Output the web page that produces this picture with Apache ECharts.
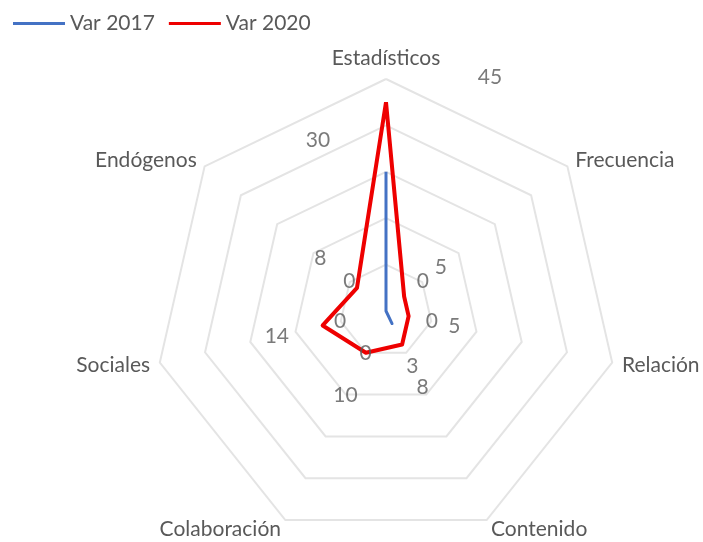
<!DOCTYPE html>
<html><head><meta charset="utf-8">
<script src="https://cdn.jsdelivr.net/npm/echarts@6/dist/echarts.min.js"></script>
<style>html,body{margin:0;padding:0;background:#fff}#c{width:703px;height:542px}</style>
</head><body><div id="c"></div>
<script>
// ---- data ----
const categories = ['Estadísticos', 'Frecuencia', 'Relación', 'Contenido', 'Colaboración', 'Sociales', 'Endógenos'];
const var2017 = [30, 0, 0, 3, 0, 0, 0];
const var2020 = [45, 5, 5, 8, 10, 14, 8];
const seriesNames = ['Var 2017', 'Var 2020'];
const axisMax = 50;
const splitCount = 5;

// ---- style ----
const FONT = 'Lato';
const TXT = '#595959';
const FS = 21;
const CX = 386, CY = 311, R = 232;
const LABEL_GAP = 47;
const colors = ['#4472C4', '#EE0000'];
const widths = [3, 4];
// hand-placed labels on the first axis (as in the source)
const firstLabelOffset = [[-68, -32], [104, -25]];

// radar lays indicators counterclockwise; reorder so the source's clockwise order is kept
const order = [0].concat(categories.map((_, i) => i).slice(1).reverse());
const reorder = arr => order.map(i => arr[i]);

const n = categories.length;
function labelOffset(i, s) {
  if (i === 0) return firstLabelOffset[s];
  const t = i * 2 * Math.PI / n;
  return [LABEL_GAP * Math.sin(t), -LABEL_GAP * Math.cos(t)];
}

const values = [var2017, var2020];

const chart = echarts.init(document.getElementById('c'), null, {renderer: 'canvas'});
const option = {
  animation: false,
  backgroundColor: '#fff',
  color: colors,
  legend: {
    data: seriesNames,
    left: 8, top: 8,
    icon: 'rect',
    itemWidth: 52, itemHeight: 3, itemGap: 14,
    textStyle: {color: TXT, fontFamily: FONT, fontSize: FS}
  },
  radar: {
    center: [CX, CY],
    radius: R,
    startAngle: 90,
    splitNumber: splitCount,
    shape: 'polygon',
    nameGap: 10,
    axisName: {color: TXT, fontFamily: FONT, fontSize: FS},
    indicator: reorder(categories).map(name => ({name: name, min: 0, max: axisMax})),
    splitLine: {lineStyle: {color: '#E4E4E4', width: 2}},
    splitArea: {show: false},
    axisLine: {show: false},
    axisTick: {show: false},
    axisLabel: {show: false}
  },
  polar: {center: [CX, CY], radius: R},
  angleAxis: {type: 'value', min: 0, max: n, startAngle: 90, clockwise: true, show: false},
  radiusAxis: {type: 'value', min: 0, max: axisMax, show: false},
  series: [
    {
      type: 'radar',
      name: seriesNames[0],
      symbol: 'none',
      z: 3,
      lineStyle: {color: colors[0], width: widths[0]},
      itemStyle: {color: colors[0]},
      data: [{name: seriesNames[0], value: reorder(var2017)}]
    },
    {
      type: 'radar',
      name: seriesNames[1],
      symbol: 'none',
      z: 2,
      lineStyle: {color: colors[1], width: widths[1]},
      itemStyle: {color: colors[1]},
      data: [{name: seriesNames[1], value: reorder(var2020)}]
    }
  ].concat(values.map((vals, s) => ({
    type: 'scatter',
    name: 'labels' + s,
    coordinateSystem: 'polar',
    symbolSize: 0,
    silent: true,
    z: 5,
    label: {
      show: true, position: 'inside',
      color: TXT, fontFamily: FONT, fontSize: FS,
      formatter: p => String(p.value[0])
    },
    data: vals.map((v, i) => ({value: [v, i], label: {offset: labelOffset(i, s)}}))
  })))
};
chart.setOption(option);
</script></body></html>
